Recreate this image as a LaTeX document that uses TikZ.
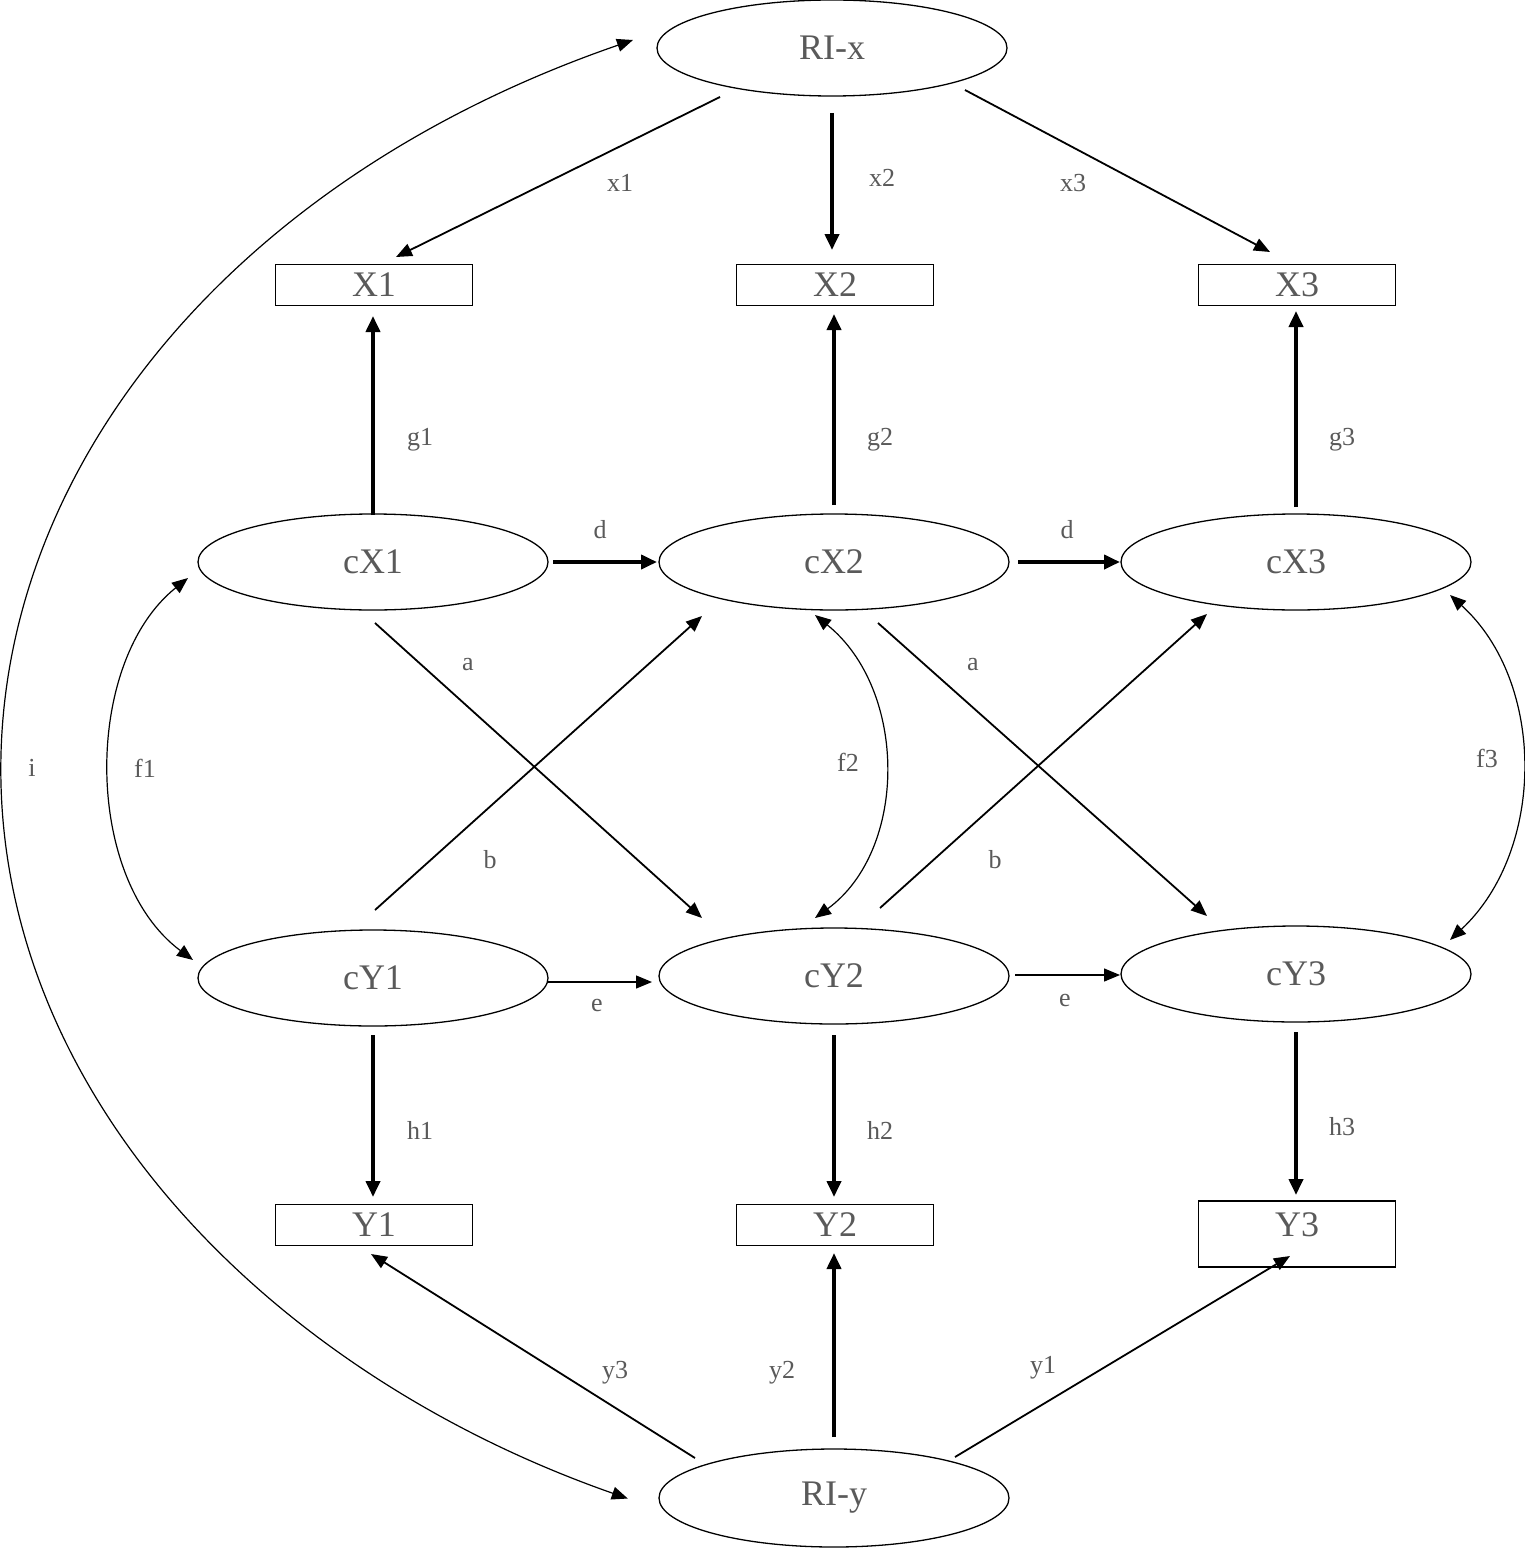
\documentclass[tikz,border=0pt]{standalone}
\usepackage{fontspec}
\setmainfont{Liberation Serif}
\usetikzlibrary{shapes.geometric,arrows.meta,calc}
\definecolor{txtgray}{HTML}{5A5A5A}
\begin{document}
\begin{tikzpicture}[x=1pt,y=-1pt,
  ell/.style={ellipse,draw,line width=1.3pt,minimum width=350pt,minimum height=96pt,inner sep=0pt,font=\fontsize{36}{40}\selectfont,text=txtgray},
  obs/.style={rectangle,draw,line width=1.8pt,minimum width=197pt,minimum height=41pt,inner sep=0pt,font=\fontsize{36}{40}\selectfont,text=txtgray},
  lab/.style={font=\fontsize{26}{30}\selectfont,text=txtgray,inner sep=0pt},
  reg/.style={line width=1.8pt,-{Triangle[length=16pt,width=13pt]}},
  regthick/.style={line width=3.8pt,-{Triangle[length=16pt,width=14pt]}},
  regthin/.style={line width=1.3pt,-{Triangle[length=16pt,width=13pt]}},
  covar/.style={line width=1.2pt,{Triangle[length=16pt,width=13pt]}-{Triangle[length=16pt,width=13pt]}},
]
\useasboundingbox[fill=white] (0,0) rectangle (1524,1549);

% nodes
\node[ell] (RIx) at (832,48) {RI-x};
\node[obs] (X1) at (374,285) {X1};
\node[obs] (X2) at (835,285) {X2};
\node[obs] (X3) at (1297,285) {X3};
\node[ell] (cX1) at (373,562) {cX1};
\node[ell] (cX2) at (834,562) {cX2};
\node[ell] (cX3) at (1296,562) {cX3};
\node[ell] (cY1) at (373,978) {cY1};
\node[ell] (cY2) at (834,976) {cY2};
\node[ell] (cY3) at (1296,974) {cY3};
\node[obs] (Y1) at (374,1225) {Y1};
\node[obs] (Y2) at (835,1225) {Y2};
\node[obs,minimum height=66pt,text depth=18pt] (Y3) at (1297,1234) {Y3};
\node[ell,minimum height=98pt] (RIy) at (834,1498) {RI-y};

% RI-x loadings
\draw[reg] ($(RIx)+(-112,49)$) -- ($(X1)+(22,-28)$);
\draw[regthick] ($(RIx)+(0,65)$) -- ($(X2)+(-3,-35)$);
\draw[reg] ($(RIx)+(133,42)$) -- ($(X3)+(-27,-33)$);

% g loadings
\draw[regthick] ($(cX1)+(0,-47)$) -- ($(X1)+(-1,31)$);
\draw[regthick] ($(cX2)+(0,-57)$) -- ($(X2)+(-1,29)$);
\draw[regthick] ($(cX3)+(0,-55)$) -- ($(X3)+(-1,26)$);

% d autoregressions
\draw[regthick] ($(cX1)+(180,0)$) -- ($(cX2)+(-177,0)$);
\draw[regthick] ($(cX2)+(184,0)$) -- ($(cX3)+(-176,0)$);

% cross-lagged
\draw[reg] ($(cX1)+(2,61)$) -- ($(cY2)+(-132,-58)$);
\draw[reg] ($(cY1)+(2,-68)$) -- ($(cX2)+(-132,54)$);
\draw[reg] ($(cX2)+(44,61)$) -- ($(cY3)+(-89,-58)$);
\draw[reg] ($(cY2)+(46,-68)$) -- ($(cX3)+(-89,52)$);

% covariances
\draw[covar] ($(cX1)+(-185,16)$) .. controls ($(cX1)+(-290,100)$) and ($(cY1)+(-290,-100)$) .. ($(cY1)+(-180,-18)$);
\draw[covar] ($(cX2)+(-19,53)$) .. controls ($(cX2)+(74,128)$) and ($(cY2)+(74,-126)$) .. ($(cY2)+(-19,-58)$);
\draw[covar] ($(cX3)+(154,33)$) .. controls ($(cX3)+(250,120)$) and ($(cY3)+(250,-124)$) .. ($(cY3)+(154,-34)$);
\draw[covar] ($(RIx)+(-199,-8)$) arc[start angle=244.8, end angle=115.5, x radius=1100, y radius=807];

% e autoregressions
\draw[regthin] ($(cY1)+(175,4)$) -- ($(cY2)+(-182,6)$);
\draw[regthin] ($(cY2)+(181,-1)$) -- ($(cY3)+(-176,1)$);

% h loadings
\draw[regthick] ($(cY1)+(0,57)$) -- ($(Y1)+(-1,-28)$);
\draw[regthick] ($(cY2)+(0,59)$) -- ($(Y2)+(-1,-28)$);
\draw[regthick] ($(cY3)+(0,58)$) -- ($(Y3)+(-1,-39)$);

% RI-y loadings
\draw[reg] ($(RIy)+(-139,-40)$) -- ($(Y1)+(-3,29)$);
\draw[regthick] ($(RIy)+(0,-61)$) -- ($(Y2)+(-1,28)$);
\draw[reg] ($(RIy)+(121,-41)$) -- ($(Y3)+(-7,22)$);

% labels
\node[lab] (lx1) at (620,183) {x1};
\node[lab] (lx2) at (882,178) {x2};
\node[lab] (lx3) at (1073,183) {x3};
\node[lab] (lg1) at (420,440) {g1};
\node[lab] (lg2) at (880,440) {g2};
\node[lab] (lg3) at (1342,440) {g3};
\node[lab] (ld1) at (600,530) {d};
\node[lab] (ld2) at (1067,530) {d};
\node[lab] (la1) at (468,665) {a};
\node[lab] (la2) at (973,665) {a};
\node[lab] (li) at (32,768) {i};
\node[lab] (lf1) at (145,768) {f1};
\node[lab] (lf2) at (848,762) {f2};
\node[lab] (lf3) at (1487,758) {f3};
\node[lab] (lb1) at (490,860) {b};
\node[lab] (lb2) at (995,860) {b};
\node[lab] (le1) at (597,1005) {e};
\node[lab] (le2) at (1065,1000) {e};
\node[lab] (lh1) at (420,1130) {h1};
\node[lab] (lh2) at (880,1130) {h2};
\node[lab] (lh3) at (1342,1127) {h3};
\node[lab] (ly3) at (615,1373) {y3};
\node[lab] (ly2) at (782,1373) {y2};
\node[lab] (ly1) at (1043,1368) {y1};
\end{tikzpicture}
\end{document}
